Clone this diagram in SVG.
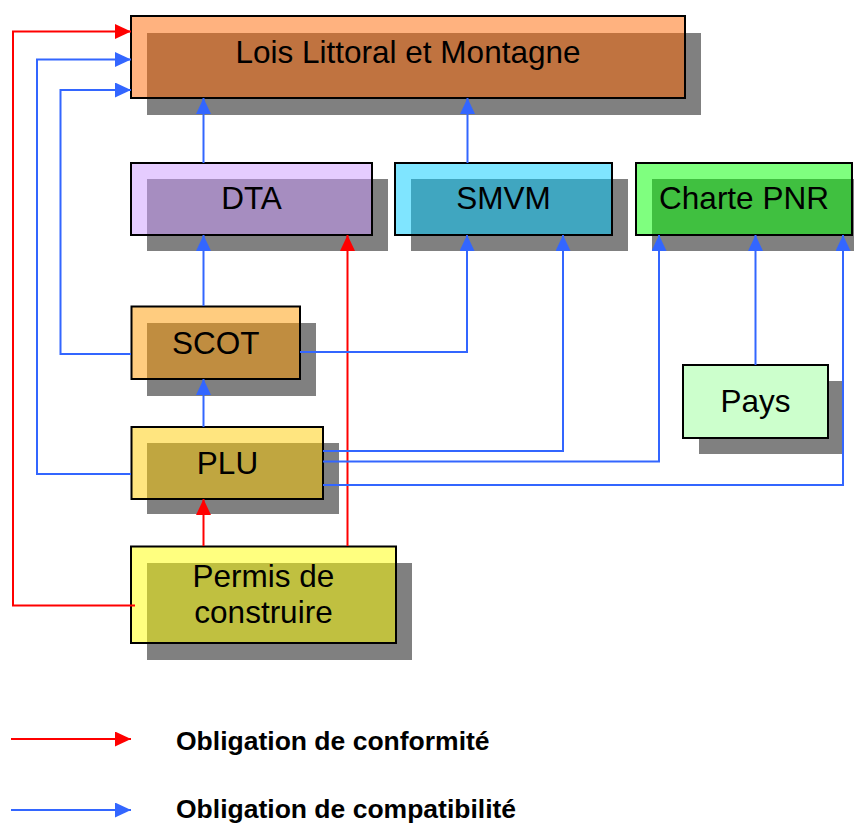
<svg xmlns="http://www.w3.org/2000/svg" width="854" height="824" viewBox="0 0 854 824">
<defs>
<style>
.sh{fill:#808080}
.bx{stroke:#000;stroke-width:2;fill-opacity:0.5}
.t{font-family:"Liberation Sans",Arial,sans-serif;font-size:31.5px;fill:#000;text-anchor:middle}
.lg{font-family:"Liberation Sans",Arial,sans-serif;font-size:26.5px;font-weight:bold;fill:#000}
.r{fill:none;stroke:#ff0000;stroke-width:2;marker-end:url(#ar)}
.b{fill:none;stroke:#3366ff;stroke-width:2;marker-end:url(#ab)}
</style>
<marker id="ar" markerUnits="userSpaceOnUse" markerWidth="16" markerHeight="15" refX="16" refY="7.5" orient="auto"><path d="M0,0 L16,7.5 L0,15 z" fill="#ff0000"/></marker>
<marker id="ab" markerUnits="userSpaceOnUse" markerWidth="16" markerHeight="15" refX="16" refY="7.5" orient="auto"><path d="M0,0 L16,7.5 L0,15 z" fill="#3366ff"/></marker>
</defs>
<rect width="854" height="824" fill="#fff"/>
<g id="lois">
<rect class="sh" x="147" y="33" width="554" height="82"/>
<rect class="bx" x="131" y="16" width="554" height="82" fill="#ff6600"/>
<text class="t" x="408" y="63">Lois Littoral et Montagne</text>
</g>
<g id="dta">
<rect class="sh" x="147" y="179" width="241" height="72"/>
<rect class="bx" x="131" y="163" width="241" height="72" fill="#cc99ff"/>
<text class="t" x="251.5" y="209">DTA</text>
</g>
<g id="smvm">
<rect class="sh" x="411" y="179" width="217" height="72"/>
<rect class="bx" x="395" y="163" width="217" height="72" fill="#00ccff"/>
<text class="t" x="503.5" y="209">SMVM</text>
</g>
<g id="charte">
<rect class="sh" x="652" y="179" width="216" height="72"/>
<rect class="bx" x="636" y="163" width="216" height="72" fill="#00ff00"/>
<text class="t" x="744" y="209">Charte PNR</text>
</g>
<g id="scot">
<rect class="sh" x="147" y="323" width="169" height="73"/>
<rect class="bx" x="131.5" y="306.5" width="168.5" height="72.5" fill="#ff9900"/>
<text class="t" x="215.8" y="354">SCOT</text>
</g>
<g id="plu">
<rect class="sh" x="147" y="443" width="192" height="71"/>
<rect class="bx" x="131.5" y="427" width="191.5" height="72" fill="#ffcc00"/>
<text class="t" x="227.5" y="474">PLU</text>
</g>
<g id="permis">
<rect class="sh" x="147" y="563" width="265" height="97"/>
<rect class="bx" x="131" y="546.5" width="265" height="96.5" fill="#ffff00"/>
<text class="t" x="263.5" y="587">Permis de</text>
<text class="t" x="263.5" y="623">construire</text>
</g>
<g id="pays">
<rect class="sh" x="699" y="381" width="145" height="73"/>
<rect x="683" y="365" width="145" height="73" fill="#ccffcc" stroke="#000" stroke-width="2"/>
<text class="t" x="755.5" y="412">Pays</text>
</g>
<g id="connectors">
<path class="r" d="M135,605.5 H13 V31.5 H131"/>
<path class="r" d="M347.5,546 V235"/>
<path class="r" d="M203.5,546 V499"/>
<path class="b" d="M131,474 H37 V59.5 H131"/>
<path class="b" d="M131,354 H60.5 V90 H131"/>
<path class="b" d="M203.5,163 V98"/>
<path class="b" d="M467.5,163 V98"/>
<path class="b" d="M203.5,306 V235"/>
<path class="b" d="M300,352 H467 V235"/>
<path class="b" d="M203.5,427 V379"/>
<path class="b" d="M323,451 H563 V235"/>
<path class="b" d="M323,461.5 H659 V235"/>
<path class="b" d="M323,485 H843 V235"/>
<path class="b" d="M755.5,365 V235"/>
</g>
<g id="legend">
<path class="r" d="M11,739 H131"/>
<path class="b" d="M11,810 H131"/>
<text class="lg" x="176" y="750">Obligation de conformité</text>
<text class="lg" x="176" y="818">Obligation de compatibilité</text>
</g>
</svg>
